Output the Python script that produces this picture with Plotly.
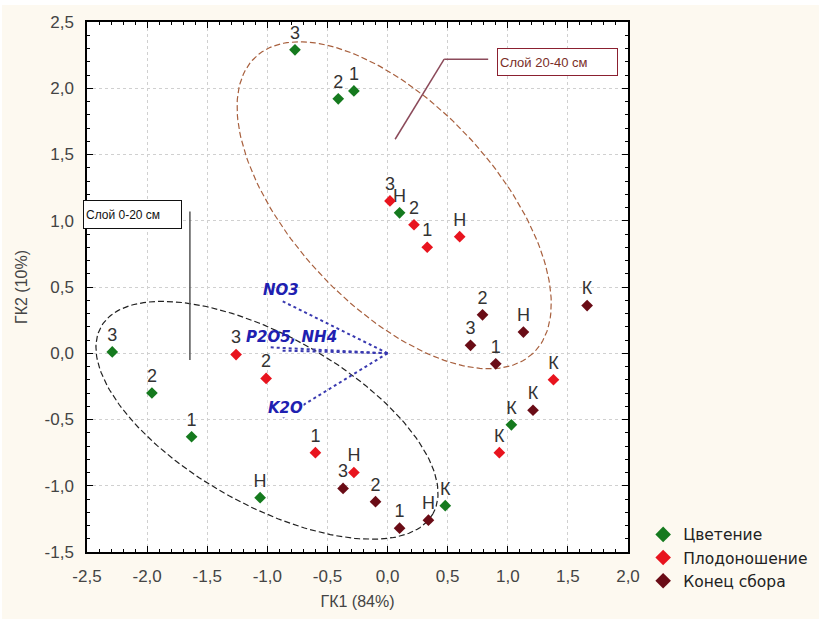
import numpy as np
import plotly.graph_objects as go

# ---------------- data ----------------
series_names = ["Цветение", "Плодоношение", "Конец сбора"]
series_colors = ["#157a1e", "#e8141e", "#6a0c16"]

bloom_x = [-0.77, -0.41, -0.28, 0.10, -2.29, -1.96, -1.63, -1.06, 0.48, 1.03]
bloom_y = [2.29, 1.92, 1.98, 1.06, 0.01, -0.30, -0.63, -1.09, -1.15, -0.54]
bloom_lbl = ["3", "2", "1", "Н", "3", "2", "1", "Н", "К", "К"]

fruit_x = [0.02, 0.22, 0.33, 0.60, -1.26, -1.01, -0.60, -0.28, 1.38, 0.93]
fruit_y = [1.15, 0.97, 0.80, 0.88, -0.01, -0.19, -0.75, -0.90, -0.20, -0.75]
fruit_lbl = ["3", "2", "1", "Н", "3", "2", "1", "Н", "К", "К"]

end_x = [0.79, 0.69, 0.90, 1.13, 1.66, 1.21, -0.37, -0.10, 0.10, 0.34]
end_y = [0.29, 0.06, -0.08, 0.16, 0.36, -0.43, -1.02, -1.12, -1.32, -1.26]
end_lbl = ["2", "3", "1", "Н", "К", "К", "3", "2", "1", "Н"]

# loading vectors (from origin)
vec_names = ["NO3", "P2O5", "NH4", "K2O"]
vec_x = [-0.89, -0.98, -0.89, -0.88]
vec_y = [0.40, 0.045, 0.02, -0.49]

x_ticks = [-2.5, -2.0, -1.5, -1.0, -0.5, 0.0, 0.5, 1.0, 1.5, 2.0]
x_tick_text = ["-2,5", "-2,0", "-1,5", "-1,0", "-0,5", "0,0", "0,5", "1,0", "1,5", "2,0"]
y_ticks = [-1.5, -1.0, -0.5, 0.0, 0.5, 1.0, 1.5, 2.0, 2.5]
y_tick_text = ["-1,5", "-1,0", "-0,5", "0,0", "0,5", "1,0", "1,5", "2,0", "2,5"]

# ---------------- layout constants ----------------
W, H = 819, 619
ML, MR, MT, MB = 87, 191, 22, 67
XR = [-2.5, 2.0]
YR = [-1.5, 2.5]
PXX = (W - ML - MR) / (XR[1] - XR[0])
PXY = (H - MT - MB) / (YR[1] - YR[0])

FONT = "Liberation Sans, Arial, sans-serif"
VFONT = "DejaVu Sans, Verdana, sans-serif"


def ellipse(cx, cy, a_px, b_px, ang_deg, n=200):
    t = np.linspace(0, 2 * np.pi, n)
    th = np.radians(ang_deg)
    dx = a_px * np.cos(t) * np.cos(th) - b_px * np.sin(t) * np.sin(th)
    dy = a_px * np.cos(t) * np.sin(th) + b_px * np.sin(t) * np.cos(th)
    return cx + dx / PXX, cy - dy / PXY


fig = go.Figure()

# ellipses
ex, ey = ellipse(0.055, 1.117, 203, 101, 46.9)
fig.add_trace(go.Scatter(x=ex, y=ey, mode="lines", showlegend=False, hoverinfo="skip",
                         line=dict(color="#a8603e", width=1.2, dash="6px,3px")))
ex, ey = ellipse(-1.003, -0.506, 190.5, 84.4, 29.4)
fig.add_trace(go.Scatter(x=ex, y=ey, mode="lines", showlegend=False, hoverinfo="skip",
                         line=dict(color="#222222", width=1.2, dash="6px,3px")))

# vectors
for vx, vy in zip(vec_x, vec_y):
    fig.add_trace(go.Scatter(x=[0, vx], y=[0, vy], mode="lines", showlegend=False,
                             hoverinfo="skip",
                             line=dict(color="#3a3ab0", width=2, dash="dot")))

# points
for name, col, xs, ys, lbl in [
    (series_names[0], series_colors[0], bloom_x, bloom_y, bloom_lbl),
    (series_names[1], series_colors[1], fruit_x, fruit_y, fruit_lbl),
    (series_names[2], series_colors[2], end_x, end_y, end_lbl),
]:
    fig.add_trace(go.Scatter(
        x=xs, y=ys, mode="markers+text", name=name, text=lbl,
        textposition="top center",
        textfont=dict(family=FONT, size=18, color="#333333"),
        marker=dict(symbol="diamond", size=9, color=col),
        cliponaxis=False,
    ))

ann = []
# vector labels
ann.append(dict(x=-0.885, y=0.475, text="<b><i>NO3</i></b>", showarrow=False,
                font=dict(family=VFONT, size=15, color="#2020b0")))
ann.append(dict(x=-0.80, y=0.12, text="<b><i>P2O5, NH4</i></b>", showarrow=False,
                font=dict(family=VFONT, size=15, color="#2020b0")))
ann.append(dict(x=-0.845, y=-0.41, text="<b><i>K2O</i></b>", showarrow=False,
                bgcolor="white", borderpad=0,
                font=dict(family=VFONT, size=15, color="#2020b0")))
# layer boxes
ann.append(dict(x=1.413, y=2.196, text="Слой 20-40 см", showarrow=False,
                width=115, height=22, align="left", borderpad=2,
                bordercolor="#8b2030", borderwidth=1, bgcolor="white",
                font=dict(family=FONT, size=13, color="#7a2e28")))
ann.append(dict(x=-2.122, y=1.045, text="Слой 0-20 см", showarrow=False,
                width=93, height=23, align="left", borderpad=2,
                bordercolor="#111111", borderwidth=1, bgcolor="white",
                font=dict(family=FONT, size=12, color="#111111")))

shapes = [
    # thin white strips at the top and left edge of the picture
    dict(type="rect", xref="paper", yref="paper", x0=-0.5, x1=1.6,
         y0=1 + (MT - 5) / (H - MT - MB), y1=1.2,
         line=dict(width=0), fillcolor="white", layer="below"),
    dict(type="rect", xref="paper", yref="paper", x0=-ML / (W - ML - MR),
         x1=-(ML - 2) / (W - ML - MR), y0=-0.5, y1=1.2,
         line=dict(width=0), fillcolor="white", layer="below"),
    dict(type="line", x0=-1.644, y0=1.07, x1=-1.644, y1=-0.05,
         line=dict(color="#555555", width=1.5)),
    dict(type="line", x0=0.837, y0=2.219, x1=0.471, y1=2.219,
         line=dict(color="#8b4a5a", width=1.5)),
    dict(type="line", x0=0.471, y0=2.219, x1=0.063, y1=1.615,
         line=dict(color="#8b4a5a", width=1.5)),
]

axis_common = dict(
    showline=True, linecolor="black", linewidth=1.5, mirror="ticks",
    ticks="inside", ticklen=6, tickcolor="black", tickwidth=1,
    showgrid=True, gridcolor="#d0d0d0", griddash="dot", gridwidth=1,
    zeroline=False, automargin=False,
    tickfont=dict(family=FONT, size=17, color="#444444"),
    minor=dict(ticks="inside", dtick=0.1, ticklen=3, tickcolor="black", showgrid=False),
)

fig.update_layout(
    width=W, height=H,
    margin=dict(l=ML, r=MR, t=MT, b=MB, autoexpand=False),
    paper_bgcolor="#fdf9f0",
    plot_bgcolor="white",
    font=dict(family=FONT),
    xaxis=dict(range=XR, tickvals=x_ticks, ticktext=x_tick_text,
               ticklabelstandoff=8,
               title=dict(text="ГК1 (84%)", standoff=11,
                          font=dict(family=FONT, size=16, color="#444444")),
               **axis_common),
    yaxis=dict(range=YR, tickvals=y_ticks, ticktext=y_tick_text,
               ticklabelstandoff=8,
               title=dict(text="ГК2 (10%)", standoff=13,
                          font=dict(family=FONT, size=16, color="#444444")),
               **axis_common),
    legend=dict(x=1.028, y=0.0645, xanchor="left", yanchor="top",
                bgcolor="rgba(0,0,0,0)",
                font=dict(family=VFONT, size=15.5, color="#222222"),
                itemsizing="constant"),
    annotations=ann,
    shapes=shapes,
)

fig.write_html("out.html", config={"displayModeBar": False},
               post_script="document.body.style.margin='0';document.body.style.overflow='hidden';")
